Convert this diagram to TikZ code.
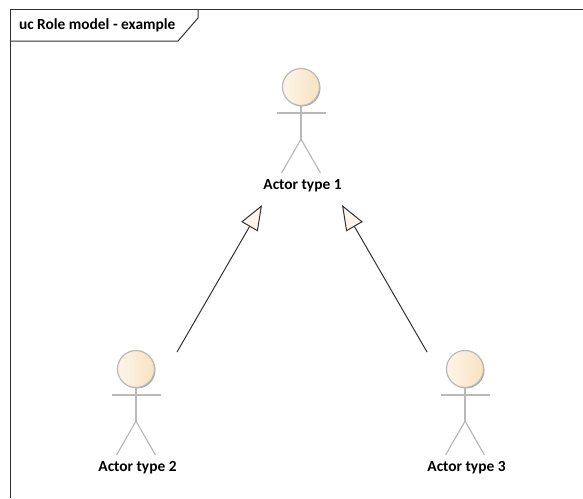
\documentclass[tikz,border=0pt]{standalone}
\usepackage{fontspec}
\setmainfont{Carlito}
\usepackage{tikz}
\usepackage{xcolor}
\usetikzlibrary{arrows.meta}
\definecolor{actor-line}{RGB}{185,185,185}
\definecolor{actor-light}{RGB}{253,245,233}
\definecolor{actor-dark}{RGB}{248,226,194}
\definecolor{frame-line}{RGB}{50,50,50}
\tikzset{
    actor-limb/.style = {draw=actor-line, line width=1.2pt},
    actor-head/.style = {circle, draw=actor-line, line width=1.2pt, minimum size=37pt, inner sep=0pt, left color=actor-light, right color=actor-dark},
    actor-shadow/.style = {circle, fill=black!35, minimum size=37pt, inner sep=0pt},
    actor-label/.style = {font=\bfseries\fontsize{15.4}{17}\selectfont, text=black},
    frame-title/.style = {font=\bfseries\fontsize{15.4}{17}\selectfont, text=black, anchor=west},
    generalization/.style = {draw=frame-line, line width=1pt, -{Triangle[open, length=25pt, width=19pt, fill=actor-light]}},
}
\newcommand{\actorfigure}[4]{
    \node [actor-shadow] at (#2+1,#3+1) {};
    \node [actor-head] (#1) at (#2,#3) {};
    \draw [actor-limb] (#1.south) -- ++(0,33) coordinate (#1-hip);
    \draw [actor-limb] (#2-24.5,#3+26) -- (#2+24.5,#3+26);
    \draw [actor-limb] (#1-hip) -- ++(-19.5,34);
    \draw [actor-limb] (#1-hip) -- ++(19.5,34);
    \node [actor-label] (#1-label) at (#2+1.5,#3+99) {#4};
}

\begin{document}
\begin{tikzpicture}[x=1pt, y=-1pt]
\useasboundingbox (0,0) rectangle (583,498);
% frame and its title tab
\draw [frame-line, line width=1pt] (10,498) -- (10,9) -- (583,9);
\draw [frame-line, line width=1pt] (10,41) -- (178,41) -- (198,18) -- (198,9);
\node [frame-title] (title) at (15.5,25) {uc Role model - example};
% actors
\actorfigure{actor1}{301}{87}{Actor type 1}
\actorfigure{actor2}{136}{369}{Actor type 2}
\actorfigure{actor3}{465}{369}{Actor type 3}
% free ends of the generalizations
\coordinate (actor1-left) at (262,205);
\coordinate (actor1-right) at (342,205);
\coordinate (actor2-up) at (177,352);
\coordinate (actor3-up) at (427,352);
\draw [generalization] (actor2-up) -- (actor1-left);
\draw [generalization] (actor3-up) -- (actor1-right);
\end{tikzpicture}
\end{document}
